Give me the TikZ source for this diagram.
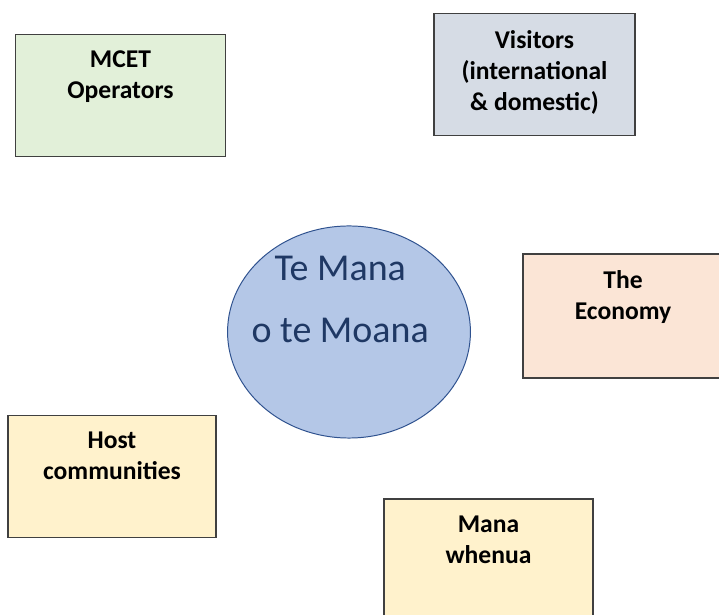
\documentclass[tikz,border=0pt]{standalone}
\usepackage{fontspec}
\setmainfont{Carlito}
\usepackage{tikz}
\usetikzlibrary{shapes.geometric,positioning}
\definecolor{edge}{RGB}{64,64,64}
\definecolor{navy}{RGB}{31,56,100}
\definecolor{oval}{RGB}{180,199,231}
\definecolor{ovalrim}{RGB}{47,82,143}
\definecolor{green}{RGB}{226,240,217}
\definecolor{grey}{RGB}{214,220,229}
\definecolor{peach}{RGB}{251,229,214}
\definecolor{cream}{RGB}{255,242,204}
\tikzset{
  box/.style={draw=edge,line width=1.1pt,minimum width=5.25cm,minimum height=3.05cm,inner sep=0pt},
  txt/.style={align=center,inner sep=0pt,font=\bfseries\fontsize{18.2}{22}\selectfont},
  hub/.style={draw=ovalrim,fill=oval,ellipse,line width=0.7pt,minimum width=6.07cm,minimum height=5.3cm,inner sep=0pt},
  hubtxt/.style={align=center,inner sep=0pt,text=navy,font=\fontsize{27}{44}\selectfont}
}

\begin{document}
\begin{tikzpicture}[x=0.025cm,y=-0.025cm]
\useasboundingbox (0,0) rectangle (719,615);
\clip (0,0) rectangle (719,615);
% centre oval
\node[hub] (moana) at (349,332) {};
\node[hubtxt,above=-2.8mm of moana.center,xshift=-2.2mm] (moanatxt) {Te Mana\\o te Moana};
% boxes around it
\node[box,fill=green] (mcet) at (120.5,95.5) {};
\node[box,fill=grey,minimum width=5.03cm] (visit) at (534.5,74.5) {};
\node[box,fill=peach,minimum width=5cm,minimum height=3.1cm] (econ) at (623,316) {};
\node[box,fill=cream,minimum width=5.2cm] (host) at (112,476.5) {};
\node[box,fill=cream,minimum width=5.22cm] (whenua) at (488.5,560) {};
\node[txt,below=4.3mm of mcet.north] (mcettxt) {MCET\\Operators};
\node[txt,below=4.3mm of visit.north] (visittxt) {Visitors\\(international\\\& domestic)};
\node[txt,below=4.3mm of econ.north] (econtxt) {The\\Economy};
\node[txt,below=4.3mm of host.north] (hosttxt) {Host\\communities};
\node[txt,below=4.3mm of whenua.north] (whenuatxt) {Mana\\whenua};
\end{tikzpicture}
\end{document}
